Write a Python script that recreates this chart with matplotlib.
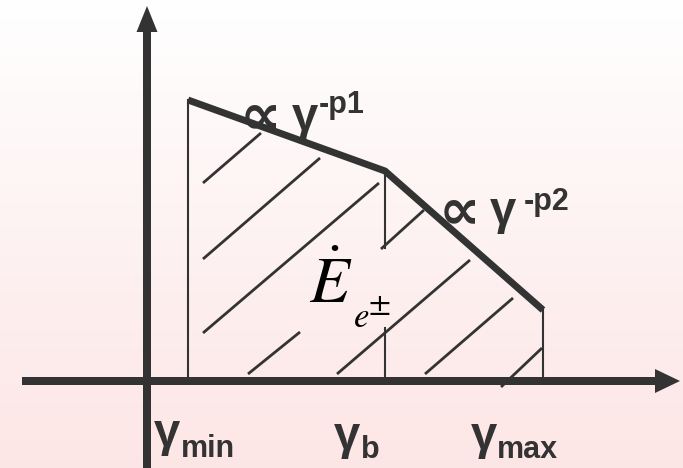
import matplotlib
matplotlib.use("Agg")
import matplotlib.pyplot as plt
import numpy as np

# schematic units = pixels of the 683x468 picture, y grows downward
gamma_pos = [188, 385, 543]      # gamma_min, gamma_b, gamma_max
spectrum_y = [100, 171, 310]     # broken power law at those points
axis_x = 147
axis_y = 381
gamma_names = ["min", "b", "max"]
slope_names = ["-p1", "-p2"]

# hatch strokes under the curve: (x0, y0, x1, y1)
hatch = [
    (203, 183, 261, 133),
    (203, 259, 320, 158),
    (203, 333, 379, 183),
    (248, 374, 300, 332),
    (337, 374, 470, 260),
    (381, 249, 424, 210),
    (425, 374, 513, 298),
    (501, 387, 542, 348),
]
# the drop line at gamma_b is cut where the label sits
drop_b = [(171, 248), (328, 381)]

ink = "#333333"
sans = ["Liberation Sans", "DejaVu Sans"]
sym = ["DejaVu Sans"]

fig = plt.figure(figsize=(6.83, 4.68), dpi=100)
ax = fig.add_axes([0, 0, 1, 1])
ax.set_xlim(0, 683)
ax.set_ylim(468, 0)
ax.axis("off")

# soft white -> pink background
grad = np.linspace(0, 1, 256)[:, None]
top = np.array([1.0, 1.0, 1.0])
bot = np.array([0.992, 0.9, 0.9])
img = top + grad[..., None] * (bot - top)
ax.imshow(np.repeat(img, 2, axis=1), extent=(0, 683, 468, 0), aspect="auto", zorder=0)

# axes with arrows
ax.arrow(22, axis_y, 680 - 22, 0, width=8, head_width=24, head_length=25,
         length_includes_head=True, color=ink, lw=0, zorder=3)
ax.arrow(axis_x, 468, 0, 6 - 468, width=8, head_width=21, head_length=26,
         length_includes_head=True, color=ink, lw=0, zorder=3)

# thin drop lines
ax.plot([gamma_pos[0]] * 2, [spectrum_y[0], axis_y], color=ink, lw=1.5, zorder=2)
for y0, y1 in drop_b:
    ax.plot([gamma_pos[1]] * 2, [y0, y1], color=ink, lw=1.5, zorder=2)
ax.plot([gamma_pos[2]] * 2, [spectrum_y[2], axis_y], color=ink, lw=1.5, zorder=2)

# hatching
for x0, y0, x1, y1 in hatch:
    ax.plot([x0, x1], [y0, y1], color=ink, lw=2.0, solid_capstyle="butt", zorder=2)

# the broken power law
ax.plot(gamma_pos, spectrum_y, color=ink, lw=5, solid_capstyle="butt",
        solid_joinstyle="miter", zorder=4)

# slope labels: proportional sign, gamma, exponent
for (xs, base, gx, gbase, sup_x, sup_base), name in zip(
        [(240, 133, 292, 130, 319, 113), (439, 228, 490, 224, 524, 210)], slope_names):
    ax.text(xs, base, "\u221d", family=sym, weight="bold", fontsize=42,
            color=ink, va="baseline", zorder=5)
    ax.text(gx, gbase, "\u03b3", family=sans, weight="bold", fontsize=34,
            color=ink, va="baseline", zorder=5)
    ax.text(sup_x, sup_base, name, family=sans, weight="bold", fontsize=22,
            color=ink, va="baseline", zorder=5)

# gamma labels under the axis
for (gx, gbase, sx, sbase), name in zip([(154, 446, 181, 457),
                                         (334, 449, 361, 458),
                                         (471, 449, 497, 458)], gamma_names):
    ax.text(gx, gbase, "\u03b3", family=sans, weight="bold", fontsize=34,
            color=ink, va="baseline", zorder=5)
    ax.text(sx, sbase, name, family=sans, weight="bold", fontsize=22,
            color=ink, va="baseline", zorder=5)

# energy rate label
plt.rcParams["mathtext.fontset"] = "stix"
ax.text(309, 303, r"$\dot{E}$", fontsize=47, color="black", va="baseline", zorder=5)
ax.text(354, 327, "e", family="STIXGeneral", style="italic", fontsize=25,
        color="black", va="baseline", zorder=5)
ax.text(369, 312, "\u00b1", family="STIXGeneral", fontsize=23,
        color="black", va="baseline", zorder=5)

fig.savefig("out.png", dpi=100)
